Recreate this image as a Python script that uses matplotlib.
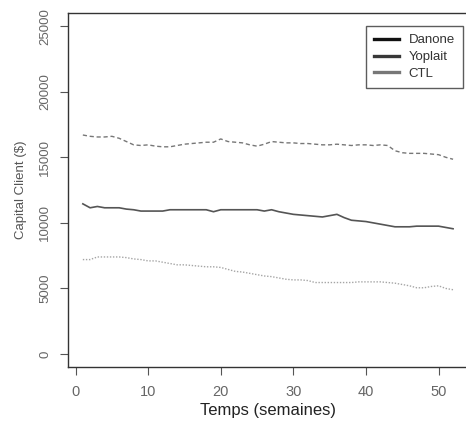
import matplotlib
matplotlib.use("Agg")
import matplotlib.pyplot as plt
from matplotlib.lines import Line2D
import numpy as np

plt.rcParams['font.family'] = ['Liberation Sans', 'DejaVu Sans']

weeks = list(range(1, 53))
danone = [16700, 16600, 16550, 16550, 16600, 16450, 16200, 15950, 15900, 15950,
          15850, 15800, 15800, 15900, 16000, 16050, 16100, 16150, 16150, 16400,
          16200, 16150, 16100, 15950, 15850, 16000, 16200, 16150, 16100, 16100,
          16050, 16050, 16000, 15950, 15950, 16000, 15950, 15900, 15950, 15950,
          15900, 15950, 15900, 15500, 15350, 15300, 15300, 15300, 15250, 15200,
          15000, 14850]
yoplait = [11450, 11150, 11250, 11150, 11150, 11150, 11050, 11000, 10900, 10900,
           10900, 10900, 11000, 11000, 11000, 11000, 11000, 11000, 10850, 11000,
           11000, 11000, 11000, 11000, 11000, 10900, 11000, 10850, 10750, 10650,
           10600, 10550, 10500, 10450, 10550, 10650, 10400, 10200, 10150, 10100,
           10000, 9900, 9800, 9700, 9700, 9700, 9750, 9750, 9750, 9750,
           9650, 9550]
ctl = [7200, 7200, 7400, 7400, 7400, 7400, 7350, 7250, 7200, 7100,
       7100, 7000, 6900, 6800, 6800, 6750, 6700, 6650, 6650, 6600,
       6450, 6300, 6250, 6150, 6050, 5950, 5900, 5800, 5700, 5650,
       5650, 5600, 5450, 5450, 5450, 5450, 5450, 5450, 5500, 5500,
       5500, 5500, 5450, 5400, 5300, 5200, 5050, 5050, 5150, 5200,
       5000, 4900]
series_names = ["Danone", "Yoplait", "CTL"]
xticks = [0, 10, 20, 30, 40, 50]
yticks = [0, 5000, 10000, 15000, 20000, 25000]

fig = plt.figure(figsize=(4.66, 4.21), dpi=100)
ax = fig.add_axes([0.146, 0.128, 0.858, 0.841])

ax.plot(weeks, danone, color='#777777', lw=1.0, ls=(0, (3, 2)))
ax.plot(weeks, yoplait, color='#555555', lw=1.2, ls='-')
ax.plot(weeks, ctl, color='#a5a5a5', lw=1.0, ls=(0, (1, 1.2)))

ax.set_xlim(-1.04, 54.04)
ax.set_ylim(-1000, 26000)
ax.set_xticks(xticks)
ax.set_yticks(yticks)
ax.set_yticklabels([str(v) for v in yticks], rotation=90, va='center')
ax.tick_params(axis='both', direction='out', length=6, width=0.8,
               colors='#555555', labelsize=9.5, labelcolor='#666666')
ax.tick_params(axis='x', pad=7, labelsize=10.5)
ax.tick_params(axis='y', pad=6)
for s in ax.spines.values():
    s.set_color('#333333')
    s.set_linewidth(1.0)

ax.set_xlabel("Temps (semaines)", fontsize=12, color='#222222', labelpad=3)
ax.set_ylabel("Capital Client ($)", fontsize=9.5, color='#555555', labelpad=9)

handles = [Line2D([0], [0], color='#111111', lw=2.4),
           Line2D([0], [0], color='#383838', lw=2.4),
           Line2D([0], [0], color='#777777', lw=2.4)]
leg = ax.legend(handles, series_names, loc='upper right',
                bbox_to_anchor=(0.9875, 0.963), fontsize=9.5,
                frameon=True, fancybox=False, edgecolor='#333333',
                handlelength=1.9, handletextpad=0.7, labelspacing=0.35,
                borderpad=0.6, borderaxespad=0.0)
leg.get_frame().set_linewidth(1.0)
for t in leg.get_texts():
    t.set_color('#333333')

fig.savefig("out.png", dpi=100)
